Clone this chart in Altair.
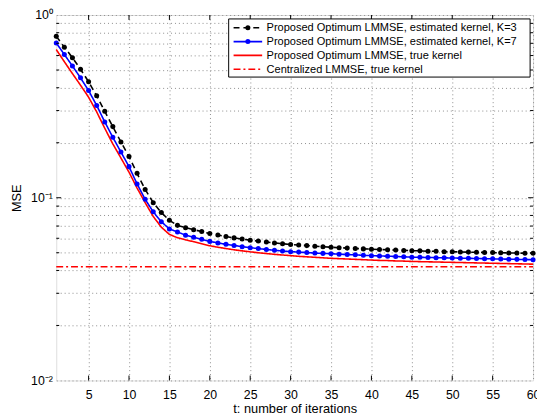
import altair as alt
import pandas as pd

t = list(range(1, 61))
mse_k3 = [0.764, 0.667, 0.584, 0.505, 0.431, 0.361, 0.297, 0.245, 0.202, 0.168,
          0.136, 0.111, 0.094, 0.083, 0.0752, 0.0706, 0.0686, 0.0669, 0.0653, 0.0637,
          0.0625, 0.0613, 0.0603, 0.0594, 0.0586, 0.0579, 0.0572, 0.0566, 0.0560, 0.0555,
          0.0551, 0.0547, 0.0543, 0.0539, 0.0536, 0.0533, 0.0530, 0.0528, 0.0525, 0.0523,
          0.0521, 0.0519, 0.0517, 0.0515, 0.0513, 0.0512, 0.0510, 0.0509, 0.0507, 0.0506,
          0.0505, 0.0504, 0.0503, 0.0502, 0.0501, 0.0500, 0.0499, 0.0498, 0.0497, 0.0497]
mse_k7 = [0.703, 0.608, 0.526, 0.453, 0.386, 0.320, 0.260, 0.214, 0.178, 0.148,
          0.119, 0.098, 0.0837, 0.0739, 0.0675, 0.0650, 0.0624, 0.0607, 0.0592, 0.0577,
          0.0566, 0.0556, 0.0548, 0.0540, 0.0533, 0.0527, 0.0521, 0.0516, 0.0511, 0.0507,
          0.0504, 0.0501, 0.0498, 0.0496, 0.0494, 0.0491, 0.0489, 0.0487, 0.0484, 0.0482,
          0.0480, 0.0479, 0.0477, 0.0475, 0.0473, 0.0472, 0.0471, 0.0470, 0.0469, 0.0468,
          0.0467, 0.0466, 0.0465, 0.0464, 0.0463, 0.0462, 0.0461, 0.0460, 0.0459, 0.0458]
mse_true = [0.647, 0.555, 0.478, 0.413, 0.355, 0.295, 0.240, 0.197, 0.165, 0.138,
            0.113, 0.094, 0.079, 0.069, 0.063, 0.0604, 0.0588, 0.0575, 0.0560, 0.0546,
            0.0536, 0.0527, 0.0519, 0.0512, 0.0506, 0.0500, 0.0495, 0.0490, 0.0486, 0.0482,
            0.0478, 0.0475, 0.0472, 0.0469, 0.0466, 0.0464, 0.0462, 0.0460, 0.0458, 0.0456,
            0.0454, 0.0453, 0.0451, 0.0450, 0.0448, 0.0447, 0.0446, 0.0445, 0.0444, 0.0443,
            0.0442, 0.0441, 0.0440, 0.0439, 0.0438, 0.0437, 0.0436, 0.0435, 0.0434, 0.0433]
mse_central = 0.0419
t_range = [1, 60]

series_names = ["Proposed Optimum LMMSE, estimated kernel, K=3",
                "Proposed Optimum LMMSE, estimated kernel, K=7",
                "Proposed Optimum LMMSE, true kernel",
                "Centralized LMMSE, true kernel"]
series_colors = ["#000000", "#0000ff", "#ff0000", "#ff0000"]
series_dash = [[6, 4], [1, 0], [1, 0], [7, 3, 2, 3]]

x_ticks = [5, 10, 15, 20, 25, 30, 35, 40, 45, 50, 55, 60]
y_major = [0.01, 0.1, 1.0]
y_minor = [0.02, 0.03, 0.04, 0.05, 0.06, 0.07, 0.08, 0.09,
           0.2, 0.3, 0.4, 0.5, 0.6, 0.7, 0.8, 0.9]
y_grid = sorted(y_major + y_minor)

W, H = 484, 371
FONT = "Liberation Sans"
X_TITLE = "t: number of iterations"
Y_TITLE = "MSE"

long_rows = []
for name, vals in zip(series_names[:3], [mse_k3, mse_k7, mse_true]):
    for ti, v in zip(t, vals):
        long_rows.append({"t": ti, "mse": v, "series": name})
df = pd.DataFrame(long_rows)

xs = alt.Scale(domain=t_range, nice=False, zero=False)
ys = alt.Scale(type="log", domain=[0.01, 1], nice=False)

xax = alt.Axis(values=x_ticks, grid=True, gridDash=[1, 3], gridColor="#8c8c8c",
               gridWidth=1, ticks=False, domain=False, labelFontSize=12.5,
               labelPadding=8, labelColor="black", labelFont=FONT,
               titleFontSize=13, titleFontWeight="normal", titlePadding=2,
               titleColor="black", titleFont=FONT, labelFlush=False)
label_expr = ("datum.value > 0.99 ? '10\u2070' : (datum.value > 0.099 && datum.value < 0.101 ? '10\u207b\u00b9' : "
              "(datum.value > 0.0099 && datum.value < 0.0101 ? '10\u207b\u00b2' : ''))")
yax = alt.Axis(values=y_grid, grid=True, gridDash=[1, 3], gridColor="#8c8c8c",
               gridWidth=1, ticks=False, domain=False, labelFontSize=12.5,
               labelPadding=4, labelColor="black", labelFont=FONT, labelExpr=label_expr,
               titleFontSize=13, titleFontWeight="normal", titlePadding=7,
               titleColor="black", titleFont=FONT, labelFlush=False)

color_scale = alt.Scale(domain=series_names[:3], range=series_colors[:3])
dash_scale = alt.Scale(domain=series_names[:3], range=series_dash[:3])

lines = alt.Chart(df).mark_line(strokeWidth=1.6).encode(
    x=alt.X("t:Q", scale=xs, axis=xax, title=X_TITLE),
    y=alt.Y("mse:Q", scale=ys, axis=yax, title=Y_TITLE),
    color=alt.Color("series:N", scale=color_scale, legend=None),
    strokeDash=alt.StrokeDash("series:N", scale=dash_scale, legend=None),
    detail="series:N",
)
points = alt.Chart(df).transform_filter(
    alt.FieldOneOfPredicate(field="series", oneOf=series_names[:2])
).mark_point(filled=True, size=26, opacity=1).encode(
    x=alt.X("t:Q", title=X_TITLE),
    y=alt.Y("mse:Q", title=Y_TITLE),
    color=alt.Color("series:N", scale=color_scale, legend=None),
)
central = alt.Chart(pd.DataFrame({"x1": [t_range[0]], "x2": [t_range[1]], "y": [mse_central]})).mark_rule(
    color=series_colors[3], strokeDash=series_dash[3], strokeWidth=1.6
).encode(
    x=alt.X("x1:Q", title=X_TITLE), x2="x2:Q", y=alt.Y("y:Q", title=Y_TITLE)
)

# inward tick marks on all four sides
xt_df = pd.DataFrame({"v": x_ticks[:-1]})
ymaj_df = pd.DataFrame({"v": y_major[1:-1]})
ymin_df = pd.DataFrame({"v": y_minor})
tick_layers = []
for y0, y1 in [(H, H - 5), (0, 5)]:
    tick_layers.append(alt.Chart(xt_df).mark_rule(color="black", strokeWidth=1).encode(
        x=alt.X("v:Q", title=X_TITLE), y=alt.value(y0), y2=alt.value(y1)))
for d, ln in [(ymaj_df, 5), (ymin_df, 3)]:
    for x0, x1 in [(0, ln), (W, W - ln)]:
        tick_layers.append(alt.Chart(d).mark_rule(color="black", strokeWidth=1).encode(
            y=alt.Y("v:Q", title=Y_TITLE), x=alt.value(x0), x2=alt.value(x1)))

# manual legend
one = pd.DataFrame({"a": [0]})
leg_layers = [alt.Chart(one).mark_rect(fill="white", stroke="black", strokeWidth=1).encode(
    x=alt.value(175), x2=alt.value(481), y=alt.value(4), y2=alt.value(63))]
row_y = [13, 27, 41, 55]
for i, name in enumerate(series_names):
    yy = row_y[i]
    leg_layers.append(alt.Chart(one).mark_rule(color=series_colors[i], strokeDash=series_dash[i],
                                               strokeWidth=1.6).encode(
        x=alt.value(180), x2=alt.value(209), y=alt.value(yy)))
    if i < 2:
        leg_layers.append(alt.Chart(one).mark_point(filled=True, size=26, opacity=1,
                                                    color=series_colors[i]).encode(
            x=alt.value(194.5), y=alt.value(yy)))
    leg_layers.append(alt.Chart(pd.DataFrame({"label": [name]})).mark_text(
        align="left", baseline="middle", fontSize=11.2, font=FONT, color="black").encode(
        x=alt.value(213.5), y=alt.value(yy + 0.5), text="label:N"))

chart = alt.layer(lines, points, central, *tick_layers, *leg_layers).properties(
    width=W, height=H,
    autosize=alt.AutoSizeParams(type="none"),
    padding={"left": 49, "top": 4, "right": 4, "bottom": 36},
).configure_view(stroke="black", strokeWidth=1).configure(font=FONT, background="white")

chart.save("out.html", embed_options={"renderer": "svg", "actions": False})
